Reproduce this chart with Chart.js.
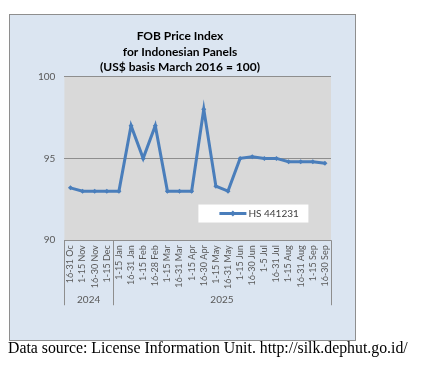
<!DOCTYPE html>
<html>
<head>
<meta charset="utf-8">
<script src="https://cdn.jsdelivr.net/npm/chart.js@4/dist/chart.umd.min.js"></script>
<style>
  html, body { margin: 0; padding: 0; background: #fff; width: 428px; height: 366px; overflow: hidden; }
  #frame { position: absolute; left: 9px; top: 14px; width: 347px; height: 327px; box-sizing: border-box;
           border: 1px solid #8e8e8e; background: #dbe5f1; }
  #frame canvas { display: block; }
  #footer { position: absolute; left: 8px; top: 339px; font-family: "Liberation Serif", "Times New Roman", serif;
            font-size: 15.8px; color: #000; white-space: nowrap; }
</style>
</head>
<body>
<div id="frame"><canvas id="c" width="345" height="325"></canvas></div>
<div id="footer">Data source: License Information Unit. http://silk.dephut.go.id/</div>
<script>
const categories = ["16-31 Oc", "1-15 Nov", "16-30 Nov", "1-15 Dec", "1-15 Jan", "16-31 Jan", "1-15 Feb", "16-28 Feb",
  "1-15 Mar", "16-31 Mar", "1-15 Apr", "16-30 Apr", "1-15 May", "16-31 May", "1-15 Jun", "16-30 Jun",
  "1-5 Jul", "16-31 Jul", "1-15 Aug", "16-31 Aug", "1-15 Sep", "16-30 Sep"];
const values = [93.2, 93, 93, 93, 93, 97, 95, 97, 93, 93, 93, 98, 93.3, 93, 95, 95.1, 95, 95, 94.8, 94.8, 94.8, 94.7];
const yearLabels = ["2024", "2025"];
const yearCounts = [4, 18];
const seriesName = "HS 441231";
const titleLines = ["FOB Price Index", "for Indonesian Panels", "(US$ basis March 2016 = 100)"];
const yMin = 90, yMax = 100, yStep = 5;

const lineColor = "#4a7ebb";
const tickColor = "#595959";
const uiFont = "Lato, 'Open Sans', 'Liberation Sans', sans-serif";

const decor = {
  id: "decor",
  beforeDraw(chart) {
    const { ctx, chartArea: a } = chart;
    ctx.save();
    ctx.fillStyle = "#d9d9d9";
    ctx.fillRect(a.left, a.top, a.right - a.left, a.bottom - a.top);
    ctx.restore();
  },
  afterDraw(chart) {
    const { ctx, chartArea: a, scales } = chart;
    const x = scales.x;
    const half = (x.getPixelForValue(1) - x.getPixelForValue(0)) / 2;
    ctx.save();
    ctx.strokeStyle = "#8e8e8e";
    ctx.lineWidth = 1;
    let idx = 0;
    const bounds = [a.left];
    yearCounts.forEach(n => { idx += n; bounds.push(x.getPixelForValue(idx - 1) + half); });
    const sepBottom = a.bottom + 65;
    bounds.forEach(bx => {
      const px = Math.round(bx) + 0.5;
      ctx.beginPath(); ctx.moveTo(px, a.bottom); ctx.lineTo(px, sepBottom); ctx.stroke();
    });
    ctx.fillStyle = tickColor;
    ctx.font = "10px " + uiFont;
    ctx.textAlign = "center";
    ctx.textBaseline = "middle";
    yearLabels.forEach((lab, i) => {
      ctx.fillText(lab, (bounds[i] + bounds[i + 1]) / 2, a.bottom + 60);
    });
    // legend box
    const lx = a.left + 134, ly = a.top + 128, lw = 110, lh = 18;
    ctx.fillStyle = "#ffffff";
    ctx.fillRect(lx, ly, lw, lh);
    const cy = ly + lh / 2;
    ctx.strokeStyle = lineColor;
    ctx.lineWidth = 3;
    ctx.beginPath(); ctx.moveTo(lx + 21, cy); ctx.lineTo(lx + 48, cy); ctx.stroke();
    ctx.fillStyle = lineColor;
    ctx.beginPath();
    const mx = lx + 34.5;
    ctx.moveTo(mx, cy - 3); ctx.lineTo(mx + 3, cy); ctx.lineTo(mx, cy + 3); ctx.lineTo(mx - 3, cy); ctx.closePath(); ctx.fill();
    ctx.fillStyle = "#404040";
    ctx.font = "10px " + uiFont;
    ctx.textAlign = "left";
    ctx.fillText(seriesName, lx + 50, cy + 0.5);
    ctx.restore();
  }
};

new Chart(document.getElementById("c"), {
  type: "line",
  data: {
    labels: categories,
    datasets: [{
      label: seriesName,
      data: values,
      borderColor: lineColor,
      backgroundColor: lineColor,
      borderWidth: 3,
      pointStyle: "rectRot",
      pointRadius: 2.5,
      pointBorderWidth: 0,
      tension: 0,
      fill: false
    }]
  },
  options: {
    responsive: false,
    animation: false,
    devicePixelRatio: 1,
    layout: { padding: { left: 19, right: 24, top: 0, bottom: 46 } },
    plugins: {
      legend: { display: false },
      tooltip: { enabled: false },
      title: {
        display: true,
        text: titleLines,
        color: "#000",
        font: { family: uiFont, size: 12, weight: "bold", lineHeight: 1.32 },
        padding: { top: 13, bottom: 1 }
      }
    },
    scales: {
      x: {
        type: "category",
        offset: true,
        grid: { display: false, drawTicks: false },
        border: { display: false },
        ticks: {
          autoSkip: false, minRotation: 90, maxRotation: 90, padding: 5,
          color: tickColor, font: { family: uiFont, size: 9 }
        }
      },
      y: {
        min: yMin, max: yMax,
        grid: { color: "#8e8e8e", drawTicks: false },
        border: { display: false },
        ticks: { stepSize: yStep, padding: 9, color: tickColor, font: { family: uiFont, size: 10 } }
      }
    }
  },
  plugins: [decor]
});
</script>
</body>
</html>
